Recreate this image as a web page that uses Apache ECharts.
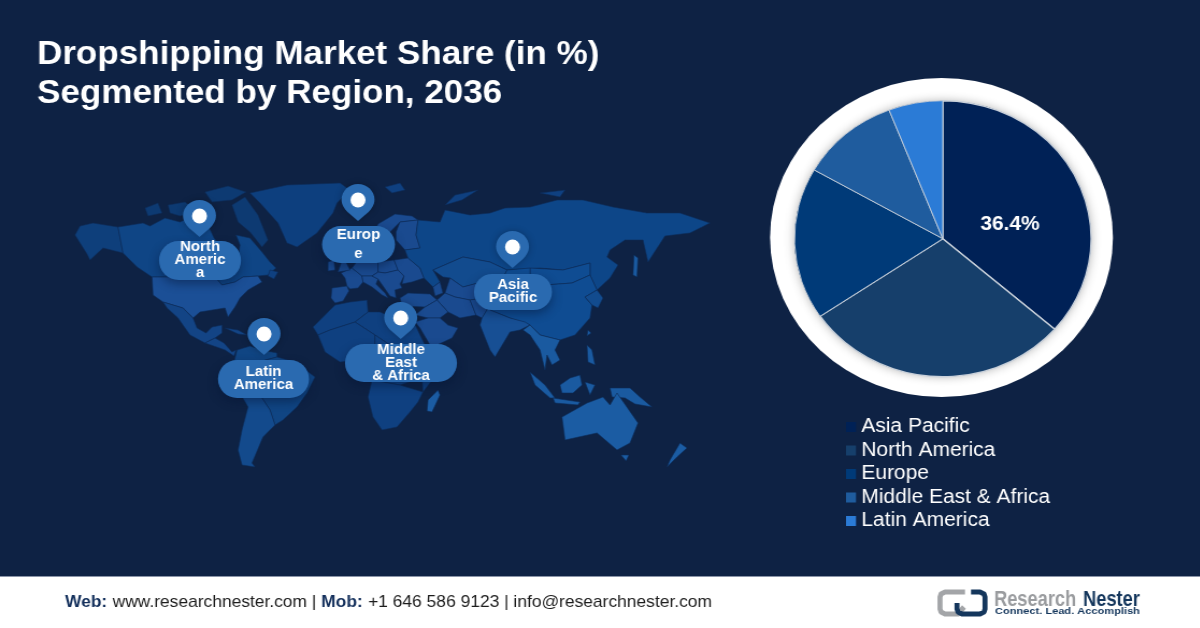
<!DOCTYPE html>
<html><head><meta charset="utf-8">
<style>html,body{margin:0;padding:0;background:#0E2244;overflow:hidden;width:1200px;height:628px}
#main{position:absolute;left:0;top:0;height:628px;transform-origin:0 0}</style>
<script src="https://cdn.jsdelivr.net/npm/echarts@6/dist/echarts.min.js"></script>
</head><body><div id="main"></div>
<script>
// ---------- data ----------
const regions = ['Asia Pacific','North America','Europe','Middle East & Africa','Latin America'];
const shares = [36.4,29.1,17.8,10.8,5.9];
const pinLabels = ['North\nAmeric\na','Europ\ne','Asia\nPacific','Middle\nEast\n& Africa','Latin\nAmerica'];
const titleLines = ['Dropshipping Market Share (in %)','Segmented by Region, 2036'];
// ---------- map outlines ----------
const land = {
 Alaska:[[75,235],[80,226],[93,223],[118,227],[123,253],[103,248],[90,260],[87,254]],
 Canada:[[118,227],[143,223],[150,226],[165,218],[180,222],[195,215],[208,225],[214,238],[222,248],[228,258],[238,258],[240,245],[236,235],[250,238],[262,252],[270,262],[276,268],[268,275],[258,276],[243,277],[235,282],[222,285],[215,277],[152,277],[137,267],[123,253]],
 Baffin:[[232,205],[245,197],[258,215],[268,240],[262,247],[250,232],[238,222]],
 Victoria:[[168,205],[185,202],[198,212],[180,216],[170,213]],
 Ellesmere:[[205,192],[228,186],[246,192],[232,200],[212,202]],
 Banks:[[145,208],[158,203],[162,213],[148,216]],
 Newfoundland:[[270,270],[278,272],[274,279],[268,276]],
 Greenland:[[250,193],[287,185],[340,183],[350,190],[337,203],[333,213],[317,233],[297,247],[287,243],[278,223],[260,203]],
 USA:[[152,277],[215,277],[222,285],[235,282],[243,277],[258,276],[262,282],[248,290],[240,298],[235,307],[228,317],[225,308],[200,312],[193,318],[183,308],[173,305],[163,302],[153,295]],
 Mexico:[[163,302],[173,305],[183,308],[193,318],[197,328],[206,333],[212,327],[222,325],[222,333],[215,338],[205,343],[190,335],[178,318],[167,308]],
 CentralAm:[[205,343],[215,338],[224,343],[232,352],[236,350],[234,356],[225,350]],
 Cuba:[[225,328],[238,330],[247,335],[238,334]],
 SAnorth:[[237,350],[250,346],[262,350],[277,353],[277,357],[262,361],[248,365],[240,375],[233,366]],
 Brazil:[[262,361],[277,357],[295,362],[315,377],[307,393],[297,407],[283,420],[275,425],[270,410],[262,398],[252,385],[240,375],[248,365]],
 Andes:[[233,366],[240,375],[252,385],[262,398],[270,410],[275,425],[263,437],[252,463],[255,467],[242,465],[238,450],[242,430],[248,407],[240,393],[232,377]],
 Iberia:[[332,288],[347,286],[349,291],[343,301],[335,303],[331,298]],
 France:[[347,286],[345,278],[341,273],[352,268],[362,276],[363,282],[358,288],[350,289]],
 Germany:[[352,268],[358,260],[372,258],[378,262],[378,272],[372,276],[362,276]],
 Italy:[[362,276],[372,276],[378,279],[376,284],[385,293],[388,298],[382,295],[372,287],[363,282]],
 Poland:[[378,262],[394,260],[398,270],[385,273],[378,272]],
 Balkans:[[372,276],[378,272],[385,273],[398,270],[404,276],[400,284],[402,288],[395,290],[396,298],[390,296],[378,279]],
 Ukraine:[[394,260],[408,258],[420,268],[424,278],[412,282],[402,284],[404,276],[398,270]],
 UK:[[335,252],[342,250],[346,262],[350,270],[338,272],[341,263]],
 Ireland:[[328,262],[334,260],[335,270],[328,271]],
 Scandinavia:[[368,245],[378,224],[395,214],[412,216],[418,220],[400,222],[390,232],[388,250],[380,255],[372,252]],
 Finland:[[400,222],[418,220],[416,235],[420,248],[405,250],[396,240],[396,232]],
 Russia:[[408,258],[405,250],[420,248],[416,235],[418,220],[440,222],[445,210],[470,215],[490,213],[505,208],[530,207],[557,200],[583,200],[613,207],[647,213],[680,213],[710,223],[690,233],[665,236],[648,262],[643,240],[625,240],[610,250],[607,257],[618,265],[610,278],[597,290],[590,275],[590,263],[563,270],[540,268],[507,270],[490,262],[463,257],[433,270],[440,282],[433,287],[424,278],[420,268]],
 NovayaZemlya:[[445,205],[455,195],[478,190],[462,200]],
 Svalbard:[[385,187],[400,183],[405,190],[392,193]],
 Severnaya:[[540,193],[565,190],[560,197]],
 Kazakhstan:[[433,270],[463,257],[490,262],[507,270],[503,278],[490,290],[478,283],[463,287],[450,278],[443,277]],
 CentralAsia:[[445,293],[450,278],[463,287],[478,283],[490,290],[484,298],[470,300],[455,297]],
 Caucasus:[[433,287],[440,282],[443,293],[435,296]],
 Turkey:[[400,298],[408,293],[430,294],[437,300],[425,307],[402,306]],
 Iran:[[437,300],[445,293],[455,297],[470,300],[476,315],[460,318],[448,312]],
 Pakistan:[[470,300],[484,298],[490,305],[482,318],[476,315]],
 Iraq:[[425,307],[437,300],[448,312],[440,318],[428,318],[415,315]],
 Arabia:[[415,322],[428,318],[440,318],[448,325],[458,328],[452,338],[437,345],[430,345],[420,328]],
 Mongolia:[[530,268],[563,270],[590,263],[590,275],[572,283],[545,285],[530,278]],
 China:[[507,270],[530,268],[530,278],[545,285],[572,283],[590,275],[597,290],[585,297],[592,305],[590,318],[575,335],[560,340],[540,335],[530,325],[510,318],[490,310],[490,290],[503,278]],
 India:[[482,318],[490,305],[490,310],[510,318],[525,322],[530,325],[520,330],[510,332],[495,357],[490,350],[480,325]],
 SEAsia:[[530,325],[540,335],[560,340],[555,350],[560,360],[552,365],[547,355],[545,370],[540,350],[530,335],[523,330]],
 Korea:[[597,290],[603,298],[598,308],[592,305],[585,297]],
 Sakhalin:[[634,255],[638,258],[637,277],[633,275]],
 Taiwan:[[588,330],[591,333],[587,336]],
 Philippines:[[587,345],[592,350],[595,365],[588,362]],
 Sumatra:[[530,372],[545,385],[555,398],[550,398],[535,385]],
 Java:[[553,398],[580,402],[578,405],[555,403]],
 Borneo:[[560,385],[570,378],[580,375],[582,385],[573,393],[562,393]],
 Sulawesi:[[585,382],[595,385],[590,395]],
 NewGuinea:[[610,388],[630,388],[640,397],[652,407],[635,404],[625,398],[612,397]],
 Australia:[[562,417],[587,403],[603,397],[610,405],[617,393],[638,423],[630,443],[617,450],[597,433],[565,440]],
 Tasmania:[[621,455],[629,455],[626,461]],
 NewZealand:[[680,443],[687,448],[677,457],[667,467],[670,460]],
 Maghreb:[[313,327],[325,315],[335,305],[350,302],[367,300],[368,312],[355,322],[330,330],[318,335]],
 NorthEast:[[368,312],[380,312],[395,318],[413,320],[420,335],[425,345],[390,345],[375,335],[355,322]],
 WestAfrica:[[318,335],[330,330],[355,322],[375,335],[375,355],[360,360],[340,362],[325,352]],
 CentralAfrica:[[375,335],[390,345],[425,345],[422,378],[400,385],[372,380],[365,362],[360,360],[375,355]],
 Horn:[[425,345],[432,357],[448,358],[436,375],[423,392],[422,378]],
 SouthAfrica:[[372,380],[400,385],[423,392],[418,402],[410,412],[397,427],[382,430],[373,417],[368,397]],
 Madagascar:[[438,390],[440,395],[432,412],[427,411],[428,400]]
};
const landColors = {USA:'#1B4F96',Alaska:'#0E3F7B',Canada:'#0F4585',Baffin:'#0D3A72',Victoria:'#0D3A72',Ellesmere:'#0D3A72',Banks:'#0D3A72',
 Greenland:'#0D3F7E',Mexico:'#134485',CentralAm:'#134485',Cuba:'#134485',SAnorth:'#104583',Brazil:'#104583',Andes:'#134A8C',
 Russia:'#0D4688',Kazakhstan:'#124B8E',China:'#0F4C92',Mongolia:'#0F4C92',India:'#174F94',SEAsia:'#1A5AA0',
 Sumatra:'#1A5AA0',Java:'#1A5AA0',Borneo:'#1A5AA0',Sulawesi:'#1A5AA0',NewGuinea:'#1A5AA0',Philippines:'#1A5AA0',Taiwan:'#1A5AA0',Korea:'#124B8E',Sakhalin:'#1A5AA0',
 Australia:'#1B5CA3',Tasmania:'#1B5CA3',NewZealand:'#1B5CA3',Madagascar:'#1B5CA3'};
const EU=['Iberia','France','Germany','Italy','Poland','Balkans','Ukraine','UK','Ireland','Scandinavia','Finland','Turkey','Caucasus','Iran','Pakistan','Iraq','Arabia','CentralAsia'];
EU.forEach(k=>landColors[k]='#1A4A8F');
// ---------- layout ----------
const S=1.075;
const W=1200/S;
document.getElementById('main').style.width=W+'px';
document.getElementById('main').style.transform='scaleX('+S+')';
const X=x=>x/S;
const pieColors=['#002156','#163F6B','#003A78','#1F5C9E','#2B7BD6'];
const pinTips=[[199.5,237],[358,221],[512.5,268],[400.7,339],[264,355]];
const pillBoxes=[[200,260.5,82,39],[358.5,244.5,73,37],[513,292,78,36],[401,363,112,38],[263.5,379,91,38]];
const pinPath='path://M16.5 0C7.4 0 0 7 0 15.6C0 21 3 25 6 28L16.5 37L27 28C30 25 33 21 33 15.6C33 7 25.6 0 16.5 0Z';
function pillPath(w,h){const r=h/2;return 'path://M'+r+' 0L'+(w-r)+' 0A'+r+' '+r+' 0 0 1 '+(w-r)+' '+h+'L'+r+' '+h+'A'+r+' '+r+' 0 0 1 '+r+' 0Z';}
const features=Object.keys(land).map(n=>({type:'Feature',properties:{name:n},geometry:{type:'Polygon',coordinates:[land[n].map(p=>[p[0],-p[1]]).concat([[land[n][0][0],-land[n][0][1]]])]}}));
echarts.registerMap('world',{type:'FeatureCollection',features});
const font='"Liberation Sans",Arial,sans-serif';
const chart=echarts.init(document.getElementById('main'),null,{renderer:'canvas'});
chart.setOption({
 animation:false,
 backgroundColor:'#0E2244',
 title:[
  {text:titleLines[0],left:X(37),top:36,padding:0,textStyle:{color:'#fff',fontFamily:font,fontWeight:'bold',fontSize:32.6,lineHeight:38}},
  {text:titleLines[1],left:X(37),top:75,padding:0,textStyle:{color:'#fff',fontFamily:font,fontWeight:'bold',fontSize:32.6,lineHeight:38}},
  {text:'{b|Web:} {r|www.researchnester.com | }{b|Mob:} {r|+1 646 586 9123 | info@researchnester.com}',left:X(65),top:594,padding:0,z:20,
   textStyle:{fontFamily:font,fontWeight:'normal',rich:{b:{fontFamily:font,fontWeight:'bold',fontSize:16.2,color:'#14305C'},r:{fontFamily:font,fontWeight:'normal',fontSize:16.2,color:'#1c1c1c'}}}}
 ],
 legend:{orient:'vertical',left:X(846),top:417,padding:0,itemWidth:10/S,itemHeight:10,itemGap:3.5,icon:'rect',selectedMode:false,
  itemStyle:{borderWidth:0},
  data:regions,textStyle:{color:'#fff',fontFamily:font,fontSize:19.5,lineHeight:20,height:20}},
 geo:{map:'world',roam:false,silent:true,left:X(60),top:180,width:670/S,height:310,
  boundingCoords:[[60,-180],[730,-490]],z:1,label:{show:false},
  itemStyle:{areaColor:'#0F4080',borderColor:'#0D2C58',borderWidth:0.6},
  regions:Object.keys(landColors).map(n=>({name:n,itemStyle:{areaColor:landColors[n]}}))},
 graphic:[
  {type:'circle',shape:{cx:X(941.5),cy:237.5,r:159.5},style:{fill:'#fff'},z:1},
  {type:'circle',shape:{cx:X(942.8),cy:238.7,r:138},style:{fill:'#0E2244',shadowBlur:10,shadowColor:'rgba(0,0,0,0.3)'},z:1},
  {type:'rect',shape:{x:0,y:576,width:W,height:52},style:{fill:'#fff'},z:10},
  {type:'rect',shape:{x:0,y:576,width:W,height:1},style:{fill:'#8A94A8'},z:10},
  {type:'group',scaleX:1/S,z:11,children:[
   {type:'polyline',shape:{points:[[965,592],[945,592],[941,594],[940,597],[940,609],[941,612],[945,614],[958,614],[964,607]]},style:{fill:'none',stroke:'#A3A5A8',lineWidth:5,lineJoin:'round'},z:11},
   {type:'polyline',shape:{points:[[957,603],[957,609],[958,612],[962,614],[980,614],[984,612],[985,609],[985,597],[984,594],[980,592],[971,592]]},style:{fill:'none',stroke:'#14365C',lineWidth:5,lineJoin:'round'},z:11},
   {type:'text',x:994,y:589,scaleX:0.83,style:{text:'Research',fill:'#9A9C9F',font:'bold 22px '+font},z:11},
   {type:'text',x:1083,y:589,scaleX:0.83,style:{text:'Nester',fill:'#14365C',font:'bold 22px '+font},z:11},
   {type:'text',x:995,y:607,scaleX:1.3,style:{text:'Connect. Lead. Accomplish',fill:'#14365C',font:'bold 8.5px '+font},z:11}
  ]}
 ],
 series:[
  {type:'pie',name:'Share',z:3,center:[X(942.8),238.7],radius:[0,138],startAngle:90,clockwise:true,
   data:regions.map((n,i)=>({name:n,value:shares[i],
     itemStyle:{color:pieColors[i],borderColor:'#C9D1DB',borderWidth:i<2?1.4:0.9},
     label:i===0?{show:true,position:'inner',offset:[-3,16],formatter:p=>p.value+'%',color:'#fff',fontFamily:font,fontWeight:'bold',fontSize:19.5}:{show:false}})),
   labelLine:{show:false},silent:true},
  {type:'scatter',coordinateSystem:'geo',z:4,silent:true,symbol:pinPath,symbolSize:[33/S,37],symbolOffset:[0,'-50%'],
   itemStyle:{color:'#2A6AB0',opacity:1,shadowBlur:6,shadowColor:'rgba(0,0,0,0.25)'},
   data:pinTips.map(p=>[p[0],-p[1]])},
  {type:'scatter',coordinateSystem:'geo',z:5,silent:true,symbol:'circle',symbolSize:[15/S,15],
   itemStyle:{color:'#fff',opacity:1},
   data:pinTips.map(p=>[p[0],-(p[1]-21)])},
  {type:'scatter',coordinateSystem:'geo',z:6,silent:true,
   symbol:(v,p)=>pillPath(pillBoxes[p.dataIndex][2],pillBoxes[p.dataIndex][3]),
   symbolSize:(v,p)=>[pillBoxes[p.dataIndex][2]/S,pillBoxes[p.dataIndex][3]],
   itemStyle:{color:'#2A6AB0',opacity:1,shadowBlur:10,shadowOffsetY:4,shadowColor:'rgba(5,20,50,0.45)'},
   label:{show:true,position:'inside',color:'#fff',opacity:1,fontFamily:font,fontWeight:'bold',fontSize:14,lineHeight:13},
   data:pillBoxes.map((b,i)=>({value:[b[0],-b[1]],label:{formatter:pinLabels[i],lineHeight:i===1?19:13}}))}
 ]
});
</script></body></html>
